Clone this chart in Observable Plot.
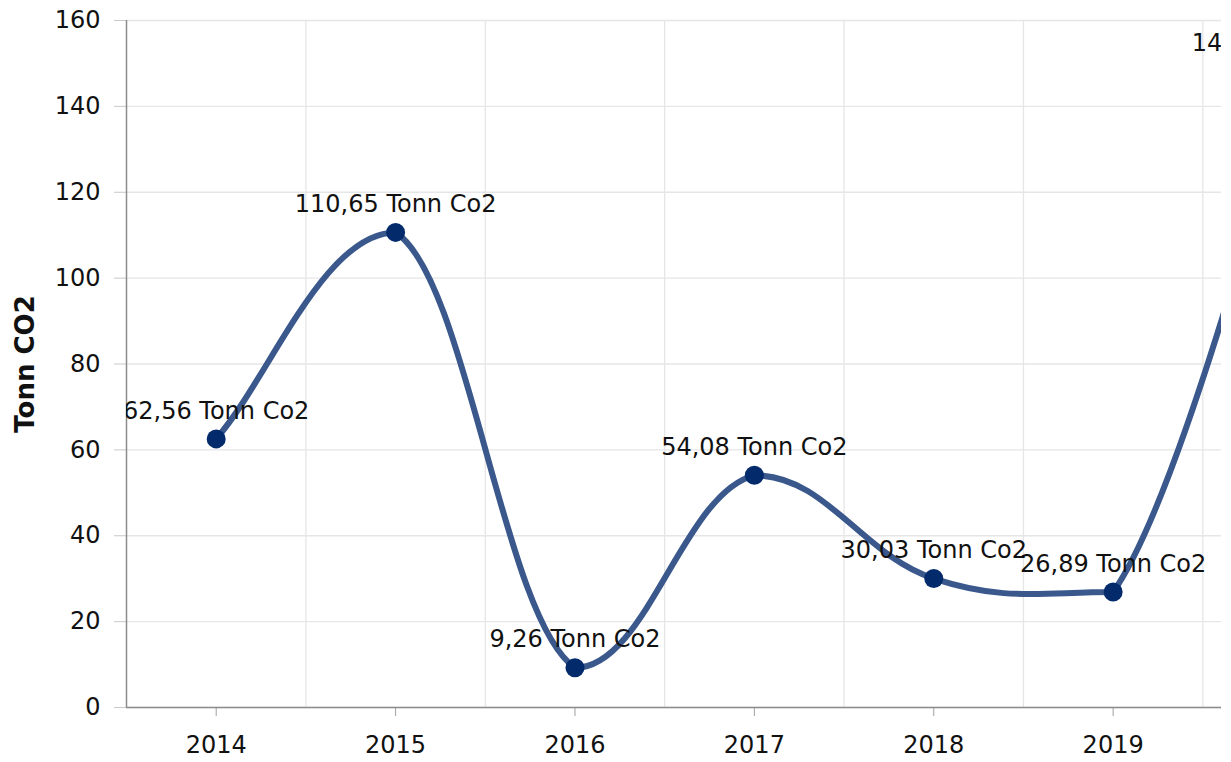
<!DOCTYPE html>
<html>
<head>
<meta charset="utf-8">
<script src="https://cdn.jsdelivr.net/npm/d3@7"></script>
<script src="https://cdn.jsdelivr.net/npm/@observablehq/plot@0.6"></script>
<style>
  html, body { margin: 0; padding: 0; background: #fff; }
</style>
</head>
<body>
<div id="chart"></div>
<script>
const years = [2014, 2015, 2016, 2017, 2018, 2019, 2020];
const values = [62.56, 110.65, 9.26, 54.08, 30.03, 26.89, 148.07];
const yTicks = [0, 20, 40, 60, 80, 100, 120, 140, 160];
const xTicks = [2014, 2015, 2016, 2017, 2018, 2019];
const unit = "Tonn Co2";
const yLabel = "Tonn CO2";

const data = years.map((year, i) => ({year, value: values[i]}));
const fmt = v => v.toFixed(2).replace(".", ",") + " " + unit;
const bandEdges = xTicks.map(y => y + 0.5);

// Spline in the style of the source chart: smoothed Bezier segments whose
// control points are kept from overshooting at local peaks and troughs.
function splineCurve(context) {
  let pts;
  const clamp = (v, a, b) => Math.max(Math.min(a, b), Math.min(Math.max(a, b), v));
  return {
    areaStart() {}, areaEnd() {},
    lineStart() { pts = []; },
    point(x, y) { pts.push([+x, +y]); },
    lineEnd() {
      const n = pts.length;
      if (!n) return;
      context.moveTo(pts[0][0], pts[0][1]);
      if (n === 1) return;
      const L = [], R = [];
      for (let i = 0; i < n; i++) {
        const [x, y] = pts[i];
        if (i === 0) {
          const [x1, y1] = pts[1];
          L[i] = [x, y];
          R[i] = [x + 0.3 * (x1 - x), y + 0.3 * (y1 - y)];
          continue;
        }
        if (i === n - 1) { L[i] = [x, y]; R[i] = [x, y]; continue; }
        const [x0, y0] = pts[i - 1], [x1, y1] = pts[i + 1];
        const s = (y1 - y0) / (x1 - x0);
        const hl = 0.4 * (x - x0), hr = 0.4 * (x1 - x);
        let ly = y - s * hl, ry = y + s * hr;
        if ((y - y0) * (y1 - y) < 0) {
          ly = clamp(ly, y, y0);
          ry = clamp(ry, y, y1);
        }
        L[i] = [x - hl, ly];
        R[i] = [x + hr, ry];
      }
      for (let i = 1; i < n; i++) {
        context.bezierCurveTo(R[i - 1][0], R[i - 1][1], L[i][0], L[i][1], pts[i][0], pts[i][1]);
      }
    }
  };
}

const chart = Plot.plot({
  width: 1231,
  height: 762,
  marginLeft: 126,
  marginRight: 10,
  marginTop: 20,
  marginBottom: 55,
  style: {fontFamily: "DejaVu Sans, Verdana, sans-serif", fontSize: "24px", background: "#fff", overflow: "visible"},
  x: {type: "linear", domain: [2013.5, 2019.604]},
  y: {domain: [0, 160]},
  marks: [
    Plot.ruleY(yTicks, {stroke: "#e6e6e6", strokeWidth: 1.3, strokeOpacity: 1}),
    Plot.ruleX(bandEdges, {stroke: "#e6e6e6", strokeWidth: 1.3, strokeOpacity: 1}),
    Plot.axisY({ticks: yTicks, tickSize: 12, tickPadding: 14, stroke: "#c8c8c8", strokeOpacity: 1, fill: "#111", label: null, tickFormat: d => String(d)}),
    Plot.axisX({ticks: xTicks, tickSize: 9, tickPadding: 19, stroke: "#a0a0a0", strokeOpacity: 1, fill: "#111", label: null, tickFormat: d => String(d)}),
    Plot.ruleX([2013.5], {stroke: "#8c8c8c", strokeWidth: 1.5}),
    Plot.ruleY([0], {stroke: "#8c8c8c", strokeWidth: 1.5}),
    Plot.lineY(data, {x: "year", y: "value", curve: splineCurve, stroke: "#3a588c", strokeWidth: 6, clip: true}),
    Plot.dot(data, {x: "year", y: "value", r: 9.5, fill: "#032a6b", clip: true}),
    Plot.text(data, {x: "year", y: "value", text: d => fmt(d.value), dy: -28, fill: "#111", fontSize: 24, clip: true}),
    Plot.text([yLabel], {frameAnchor: "left", textAnchor: "middle", dx: -101, rotate: -90, fontWeight: "bold", fontSize: 26, fill: "#111"})
  ]
});
document.getElementById("chart").appendChild(chart);
</script>
</body>
</html>
